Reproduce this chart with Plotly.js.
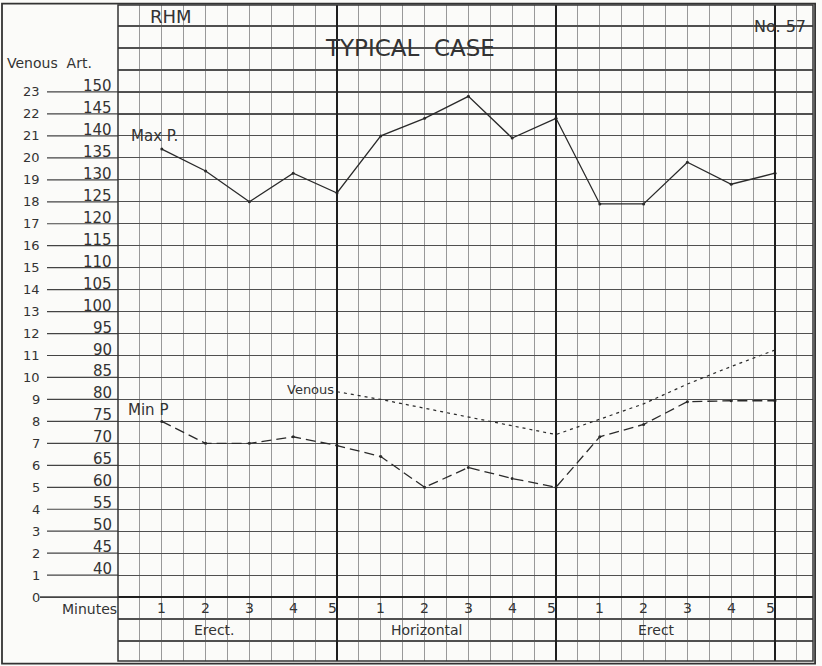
<!DOCTYPE html>
<html><head><meta charset="utf-8">
<script src="https://cdn.plot.ly/plotly-3.0.1.min.js"></script>
<style>html,body{margin:0;padding:0;background:#fbfbf9}</style>
</head><body>
<div id="chart" style="width:822px;height:666px"></div>
<script>
// ---- data ----
const minuteIndex  = [0,1,2,3,4,5,6,7,8,9,10,11,12,13,14];
const minuteLabels = ["1","2","3","4","5","1","2","3","4","5","1","2","3","4","5"];
const phaseLabels  = ["Erect.","Horizontal","Erect"];
// arterial pressure, mm Hg
const maxP = [137,132,125,131.5,127,140,144,149,139.5,144,124.5,124.5,134,129,131.5];
const minP = [75,70,70,71.5,69.5,67,60,64.5,62,60,71.5,74.3,79.5,79.7,79.7];
// venous pressure (venous scale)
const venousIndex = [4,5,6,7,8,9,10,11,12,13,14];
const venous = [9.35,9.0,8.6,8.2,7.8,7.4,8.1,8.8,9.7,10.5,11.25];
// axis tick labels
const venousTicks = [23,22,21,20,19,18,17,16,15,14,13,12,11,10,9,8,7,6,5,4,3,2,1,0];
const artTicks = ["150","145","140","135","130","125","120","115","110","105","100","95","90","85","80","75","70","65","60","55","50","45","40",""];

// ---- geometry ----
const Y0 = -2.91, Y1 = 26.96;          // venous units
const toArt = u => 35 + 5*u;            // venous row -> arterial value
const PL = 118, PW = 695;               // plot left px, width px
const px = p => (p - PL) / PW;          // pixel x -> paper x

const ink = '#2a2a2a';
const FONT = 'DejaVu Sans, Liberation Sans, sans-serif';

const traces = [
  {x: minuteIndex, y: maxP, yaxis: 'y2', mode: 'lines+markers', name: 'Max P.',
   line: {color: ink, width: 1.3}, marker: {color: ink, size: 3}, hoverinfo: 'skip'},
  {x: minuteIndex, y: minP, yaxis: 'y2', mode: 'lines+markers', name: 'Min P',
   line: {color: ink, width: 1.3, dash: '10px,5px'}, marker: {color: ink, size: 3}, hoverinfo: 'skip'},
  {x: venousIndex, y: venous, mode: 'lines', name: 'Venous',
   line: {color: ink, width: 1.2, dash: '3px,4px'}, hoverinfo: 'skip'}
];

const ann = [];
const shapes = [];
const txt = (s, size) => ({text: s, showarrow: false, font: {family: FONT, size: size, color: '#333'}});

venousTicks.forEach((v, k) => {
  ann.push(Object.assign(txt(String(v), 13), {xref: 'paper', yref: 'y', x: px(42), y: v, xanchor: 'right', yanchor: 'middle'}));
  if (artTicks[k]) {
    ann.push(Object.assign(txt(artTicks[k], 15), {xref: 'paper', yref: 'y', x: px(114), y: v, xanchor: 'right', yanchor: 'bottom', yshift: -5}));
  }
  shapes.push({type: 'line', xref: 'paper', yref: 'y', x0: px(v === 0 ? 40 : 47), x1: 0, y0: v, y1: v,
               line: {color: '#444', width: v === 0 ? 1.8 : 1.2}});
});

minuteIndex.forEach((m, k) => {
  ann.push(Object.assign(txt(minuteLabels[k], 14), {xref: 'x', yref: 'y', x: m, y: -0.5, yanchor: 'middle',
    xshift: minuteLabels[k] === "5" ? -5 : 0}));
});
const phaseX = [1.2, 6.05, 11.3];
phaseLabels.forEach((p, k) => {
  ann.push(Object.assign(txt(p, 14), {xref: 'x', yref: 'y', x: phaseX[k], y: -1.5, yanchor: 'middle'}));
});

ann.push(Object.assign(txt('Minutes', 14), {xref: 'paper', yref: 'y', x: px(119), y: -0.55, xanchor: 'right', yanchor: 'middle'}));
ann.push(Object.assign(txt('Venous&nbsp;&nbsp;Art.', 14), {xref: 'paper', yref: 'y', x: px(5), y: 24.3, xanchor: 'left', yanchor: 'middle'}));
ann.push(Object.assign(txt('RHM', 18), {xref: 'paper', yref: 'y', x: px(148), y: 26, xanchor: 'left', yanchor: 'bottom', yshift: -3}));
ann.push(Object.assign(txt('TYPICAL  CASE', 23), {xref: 'paper', yref: 'y', x: px(410), y: 25.0, xanchor: 'center', yanchor: 'middle'}));
ann.push(Object.assign(txt('No. 57', 16), {xref: 'paper', yref: 'y', x: px(808), y: 26.0, xanchor: 'right', yanchor: 'middle'}));
ann.push(Object.assign(txt('Max P.', 15), {xref: 'x', yref: 'y', x: -0.75, y: 21.0, xanchor: 'left', yanchor: 'middle'}));
ann.push(Object.assign(txt('Min P', 15), {xref: 'x', yref: 'y', x: -0.82, y: 8.5, xanchor: 'left', yanchor: 'middle'}));
ann.push(Object.assign(txt('Venous', 13), {xref: 'x', yref: 'y', x: 3.98, y: 9.45, xanchor: 'right', yanchor: 'middle'}));

// heavy verticals separating phases
[4, 9, 14].forEach(v => shapes.push({type: 'line', xref: 'x', yref: 'paper', x0: v, x1: v, y0: 0, y1: 1, line: {color: '#1e1e1e', width: 2}}));
// plot frame and outer frame
shapes.push({type: 'rect', xref: 'paper', yref: 'paper', x0: 0, x1: 1, y0: 0, y1: 1, line: {color: '#333', width: 1.5}});
shapes.push({type: 'rect', xref: 'paper', yref: 'paper', x0: px(2), x1: 1.003, y0: -0.004, y1: 1.002, line: {color: '#333', width: 1.8}});

const layout = {
  width: 822, height: 666,
  margin: {l: PL, r: 822 - PL - PW, t: 5, b: 5},
  paper_bgcolor: '#fbfbf9', plot_bgcolor: '#fbfbf9',
  showlegend: false,
  xaxis: {range: [-1, -1 + PW/43.8], tick0: 0, dtick: 0.5, showgrid: true, gridcolor: '#999', gridwidth: 1,
          showticklabels: false, zeroline: false, ticks: '', showline: false, fixedrange: true},
  yaxis: {range: [Y0, Y1], tick0: 0, dtick: 1, showgrid: true, gridcolor: '#505050', gridwidth: 1.2,
          showticklabels: false, zeroline: true, zerolinecolor: '#1e1e1e', zerolinewidth: 2.2, ticks: '', fixedrange: true},
  yaxis2: {overlaying: 'y', range: [toArt(Y0), toArt(Y1)], showgrid: false, showticklabels: false, zeroline: false, ticks: '', fixedrange: true},
  annotations: ann,
  shapes: shapes
};

Plotly.newPlot('chart', traces, layout, {displayModeBar: false, staticPlot: true});
</script>
</body></html>
